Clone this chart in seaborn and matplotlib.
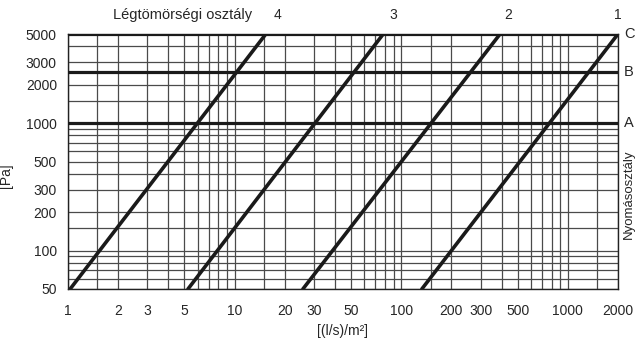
import pandas as pd
import seaborn as sns
import numpy as np
import matplotlib.pyplot as plt
from matplotlib.ticker import FixedLocator, LogLocator, NullFormatter, FuncFormatter

# air tightness classes (Légtömörségi osztály): flow at 50 Pa and at 5000 Pa
tightness_classes = ["4", "3", "2", "1"]
flow_at_50 = [1.03, 5.25, 25.7, 133]
flow_at_5000 = [15.4, 78, 392, 2000]
pressure_ends = [50, 5000]

# pressure classes (Nyomásosztály)
pressure_classes = ["A", "B", "C"]
pressure_values = [1000, 2500, 5000]

x_ticks = [1, 2, 3, 5, 10, 20, 30, 50, 100, 200, 300, 500, 1000, 2000]
y_ticks = [50, 100, 200, 300, 500, 1000, 2000, 3000, 5000]
grid_subs = [1, 1.5, 2, 3, 4, 5, 6, 7, 8, 9]

# label x positions for class numbers on top
label_x = [18, 90, 440, 2000]

rows = []
for c, f0, f1 in zip(tightness_classes, flow_at_50, flow_at_5000):
    rows.append({"osztaly": c, "flow": f0, "pressure": pressure_ends[0]})
    rows.append({"osztaly": c, "flow": f1, "pressure": pressure_ends[1]})
df = pd.DataFrame(rows)

sns.set_style("white")
plt.rcParams["font.family"] = ["Liberation Sans", "DejaVu Sans"]
plt.rcParams["font.size"] = 10

fig = plt.figure(figsize=(6.36, 3.39), dpi=100)
ax = fig.add_axes([68 / 636, 1 - 289 / 339, 550 / 636, 255 / 339])

ax.set_xscale("log")
ax.set_yscale("log")

# grid
ax.xaxis.set_major_locator(FixedLocator(x_ticks))
ax.yaxis.set_major_locator(FixedLocator(y_ticks))
ax.xaxis.set_minor_locator(LogLocator(base=10, subs=grid_subs, numticks=50))
ax.yaxis.set_minor_locator(LogLocator(base=10, subs=grid_subs, numticks=50))
ax.xaxis.set_minor_formatter(NullFormatter())
ax.yaxis.set_minor_formatter(NullFormatter())
fmt = FuncFormatter(lambda v, p: f"{v:g}")
ax.xaxis.set_major_formatter(fmt)
ax.yaxis.set_major_formatter(fmt)
ax.grid(True, which="both", color="#4a4a4a", lw=0.9)
ax.tick_params(which="both", length=0)
ax.tick_params(axis="x", pad=11, labelsize=10)
ax.tick_params(axis="y", pad=8, labelsize=10)

for s in ax.spines.values():
    s.set_color("#222222")
    s.set_linewidth(1.0)

# pressure class lines
for name, p in zip(pressure_classes, pressure_values):
    ax.axhline(p, color="#1a1a1a", lw=2.3, zorder=3)
    ax.text(1.011, p, name, transform=ax.get_yaxis_transform(), ha="left", va="center",
            fontsize=10.5, clip_on=False)

# tightness class lines
sns.lineplot(data=df, x="flow", y="pressure", units="osztaly", estimator=None,
             color="#1a1a1a", lw=2.6, ax=ax, zorder=4, legend=False)
ax.set_xlim(1, 2000)
ax.set_ylim(50, 5000)

for name, lx in zip(tightness_classes, label_x):
    ax.text(lx, 1.075, name, transform=ax.get_xaxis_transform(), ha="center", va="center",
            fontsize=10)
ax.text(0.209, 1.075, "Légtömörségi osztály", transform=ax.transAxes, ha="center",
        va="center", fontsize=10.5)

ax.text(1.019, 0.373, "Nyomásosztály", transform=ax.transAxes, rotation=90,
        ha="center", va="center", fontsize=9.5)

ax.set_xlabel("[(l/s)/m²]", fontsize=10, labelpad=4)
ax.set_ylabel("[Pa]", fontsize=10)
ax.yaxis.set_label_coords(-0.1, 0.443)

fig.savefig("out.png", dpi=100)
